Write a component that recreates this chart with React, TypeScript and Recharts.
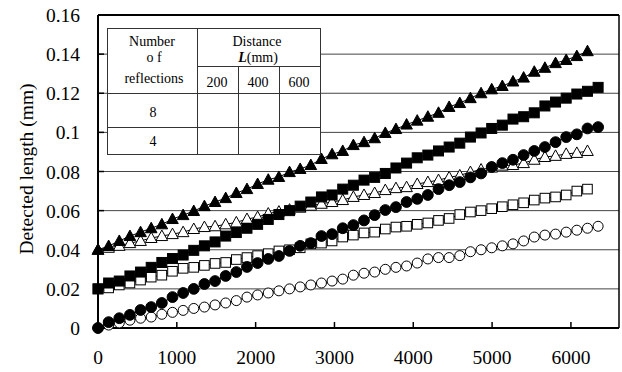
import React from 'react';
import { ScatterChart, Scatter, XAxis, YAxis, CartesianGrid, ReferenceLine } from 'recharts';

const FONT = '"Liberation Serif", "Times New Roman", serif';

// x positions of the measurement points
const xPositions = [
  0, 135, 270, 405, 540, 675, 810, 945, 1080, 1215, 1350, 1485, 1620, 1755, 1890, 2025,
  2160, 2295, 2430, 2565, 2700, 2835, 2970, 3105, 3240, 3375, 3510, 3645, 3780, 3915, 4050, 4185,
  4320, 4455, 4590, 4725, 4860, 4995, 5130, 5265, 5400, 5535, 5670, 5805, 5940, 6075, 6210, 6345,
];

// filled triangles
const triFilled = [
  0.040, 0.0419, 0.0445, 0.047, 0.049, 0.051, 0.053, 0.0557, 0.0577, 0.0598, 0.0623, 0.0644,
  0.0664, 0.069, 0.071, 0.0736, 0.0758, 0.0772, 0.0797, 0.0813, 0.0833, 0.0864, 0.0888, 0.0905,
  0.0935, 0.095, 0.097, 0.0997, 0.1017, 0.104, 0.106, 0.108, 0.110, 0.113, 0.115, 0.1175,
  0.120, 0.122, 0.1237, 0.126, 0.128, 0.131, 0.133, 0.1354, 0.137, 0.139, 0.1415,
];
// filled squares
const sqFilled = [
  0.020, 0.023, 0.024, 0.0266, 0.0286, 0.031, 0.0335, 0.0355, 0.0373, 0.0397, 0.042, 0.044,
  0.047, 0.0488, 0.051, 0.053, 0.0555, 0.058, 0.060, 0.0623, 0.0644, 0.067, 0.068, 0.071,
  0.073, 0.0756, 0.077, 0.079, 0.0818, 0.0843, 0.087, 0.0884, 0.0905, 0.0925, 0.0945, 0.0976,
  0.0997, 0.102, 0.1037, 0.1068, 0.108, 0.110, 0.1135, 0.1155, 0.1175, 0.1196, 0.121, 0.123,
];
// filled circles
const circFilled = [
  0.000, 0.003, 0.005, 0.0067, 0.0092, 0.0107, 0.0128, 0.0158, 0.0179, 0.020, 0.0225, 0.024,
  0.0266, 0.0286, 0.0312, 0.0332, 0.0353, 0.0368, 0.0394, 0.042, 0.0434, 0.047, 0.048, 0.051,
  0.0526, 0.055, 0.0577, 0.0603, 0.0618, 0.0644, 0.066, 0.068, 0.071, 0.073, 0.0746, 0.077,
  0.079, 0.0823, 0.0843, 0.086, 0.0884, 0.0905, 0.0925, 0.095, 0.0976, 0.099, 0.102, 0.1027,
];
// open triangles
const triOpen = [
  0.040, 0.041, 0.042, 0.0434, 0.0445, 0.046, 0.047, 0.048, 0.049, 0.0506, 0.0516, 0.052,
  0.053, 0.054, 0.0557, 0.0567, 0.0585, 0.0595, 0.0605, 0.0615, 0.0625, 0.0635, 0.0644, 0.0654,
  0.067, 0.068, 0.069, 0.0705, 0.0715, 0.072, 0.0736, 0.0746, 0.0756, 0.077, 0.078, 0.0797,
  0.081, 0.082, 0.083, 0.0833, 0.0843, 0.086, 0.0874, 0.088, 0.089, 0.0895, 0.0905,
];
// open squares
const sqOpen = [
  0.020, 0.0205, 0.022, 0.023, 0.0245, 0.026, 0.027, 0.029, 0.0305, 0.031, 0.032, 0.033,
  0.0335, 0.035, 0.036, 0.037, 0.038, 0.0394, 0.040, 0.041, 0.043, 0.0434, 0.0445, 0.0465,
  0.0475, 0.0486, 0.049, 0.0506, 0.0516, 0.052, 0.053, 0.0537, 0.055, 0.056, 0.058, 0.0593,
  0.060, 0.061, 0.062, 0.063, 0.064, 0.0654, 0.0664, 0.067, 0.068, 0.070, 0.071,
];
// open circles
const circOpen = [
  0.000, 0.0015, 0.0026, 0.004, 0.005, 0.0056, 0.007, 0.008, 0.009, 0.010, 0.0107, 0.0118,
  0.0128, 0.014, 0.0158, 0.0169, 0.0179, 0.019, 0.020, 0.021, 0.022, 0.023, 0.024, 0.025,
  0.027, 0.028, 0.0286, 0.030, 0.031, 0.0317, 0.0332, 0.0353, 0.036, 0.036, 0.037, 0.039,
  0.040, 0.041, 0.042, 0.043, 0.0445, 0.0465, 0.0475, 0.048, 0.049, 0.050, 0.051, 0.052,
];

const xTicks = [0, 1000, 2000, 3000, 4000, 5000, 6000];
const yTicks = [0, 0.02, 0.04, 0.06, 0.08, 0.1, 0.12, 0.14, 0.16];
const yLabel = 'Detected length (mm)';

const tableRowHeader = ['Number', 'o f', 'reflections'];
const tableColHeader = ['Distance', '(mm)'];
const tableDistances = ['200', '400', '600'];
const tableReflections = ['8', '4'];

const toPoints = (ys: number[]) => ys.map((y, i) => ({ x: xPositions[i], y }));

const TriShape = (filled: boolean) => (p: any) => {
  const { cx, cy } = p;
  if (cx == null || cy == null) return <g />;
  return (
    <polygon
      points={`${cx},${cy - 6} ${cx + 5.8},${cy + 4.5} ${cx - 5.8},${cy + 4.5}`}
      fill={filled ? '#000' : '#fff'}
      stroke="#000"
      strokeWidth={1}
    />
  );
};
const SqShape = (filled: boolean) => (p: any) => {
  const { cx, cy } = p;
  if (cx == null || cy == null) return <g />;
  const h = filled ? 5 : 4.8;
  return (
    <rect x={cx - h} y={cy - h} width={2 * h} height={2 * h} fill={filled ? '#000' : '#fff'} stroke="#000" strokeWidth={1} />
  );
};
const CircShape = (filled: boolean) => (p: any) => {
  const { cx, cy } = p;
  if (cx == null || cy == null) return <g />;
  return <circle cx={cx} cy={cy} r={filled ? 5.4 : 5} fill={filled ? '#000' : '#fff'} stroke="#000" strokeWidth={1} />;
};

const X_MARGIN = 22;
const XTick = (props: any) => {
  const { x, y, payload } = props;
  const axisY = y - X_MARGIN;
  return (
    <g>
      {payload.value !== 0 && <line x1={x} x2={x} y1={axisY} y2={axisY - 6} stroke="#000" strokeWidth={1.5} />}
      <text x={x} y={y} dy="0.71em" textAnchor="middle" fontFamily={FONT} fontSize={19.5} fill="#000">
        {payload.value}
      </text>
    </g>
  );
};

const YTick = (props: any) => {
  const { x, y, payload } = props;
  const axisX = x + 18;
  const v = payload.value as number;
  const label = v === 0 ? '0' : String(Number(v.toFixed(2)));
  return (
    <g>
      {v !== 0 && v !== 0.16 && <line x1={axisX} x2={axisX + 6} y1={y} y2={y} stroke="#000" strokeWidth={1.5} />}
      <text x={x} y={y} dy="0.36em" textAnchor="end" fontFamily={FONT} fontSize={19.5} fill="#000">
        {label}
      </text>
    </g>
  );
};

const lineStyle = { stroke: '#000', strokeWidth: 1 };

export default function App() {
  return (
    <div style={{ position: 'absolute', left: 0, top: 0, width: 622, height: 372, background: '#fff' }}>
      <ScatterChart width={622} height={372} margin={{ top: 15, right: 3, bottom: 14, left: 0 }}>
        <CartesianGrid vertical={false} stroke="#444" strokeWidth={1} />
        <XAxis
          type="number"
          dataKey="x"
          domain={[0, 6610]}
          ticks={xTicks}
          height={30}
          tickSize={0}
          tickMargin={X_MARGIN}
          tickLine={false}
          tick={<XTick />}
          axisLine={{ stroke: '#000', strokeWidth: 2 }}
        />
        <YAxis
          type="number"
          dataKey="y"
          domain={[0, 0.16]}
          ticks={yTicks}
          width={98}
          tickSize={0}
          tickMargin={18}
          tickLine={false}
          tick={<YTick />}
          axisLine={{ stroke: '#000', strokeWidth: 2 }}
        />
        <ReferenceLine y={0.16} stroke="#000" strokeWidth={2} />
        <ReferenceLine x={6610} stroke="#000" strokeWidth={1.5} />
        <Scatter data={toPoints(circOpen)} line={lineStyle} shape={CircShape(false)} isAnimationActive={false} />
        <Scatter data={toPoints(sqOpen)} line={lineStyle} shape={SqShape(false)} isAnimationActive={false} />
        <Scatter data={toPoints(triOpen)} line={lineStyle} shape={TriShape(false)} isAnimationActive={false} />
        <Scatter data={toPoints(circFilled)} line={lineStyle} shape={CircShape(true)} isAnimationActive={false} />
        <Scatter data={toPoints(sqFilled)} line={lineStyle} shape={SqShape(true)} isAnimationActive={false} />
        <Scatter data={toPoints(triFilled)} line={lineStyle} shape={TriShape(true)} isAnimationActive={false} />
      </ScatterChart>
      <svg
        width={622}
        height={372}
        style={{ position: 'absolute', left: 0, top: 0, pointerEvents: 'none' }}
        fontFamily={FONT}
      >
        <text x={33} y={169} transform="rotate(-90 33 169)" textAnchor="middle" fontSize={19.5} fill="#000">
          {yLabel}
        </text>
        <g stroke="#333" strokeWidth={1} shapeRendering="crispEdges">
          <rect x={107.5} y={28.5} width={213} height={126} fill="#fff" />
          <line x1={197.5} x2={197.5} y1={28.5} y2={154.5} />
          <line x1={197.5} x2={320.5} y1={66.5} y2={66.5} />
          <line x1={238.5} x2={238.5} y1={66.5} y2={154.5} />
          <line x1={279.5} x2={279.5} y1={66.5} y2={154.5} />
          <line x1={107.5} x2={320.5} y1={93.5} y2={93.5} />
          <line x1={107.5} x2={320.5} y1={127.5} y2={127.5} />
        </g>
        <g fontSize={14} fill="#000" textAnchor="middle">
          <text x={152} y={46}>{tableRowHeader[0]}</text>
          <text x={154} y={62}>{tableRowHeader[1]}</text>
          <text x={154} y={83}>{tableRowHeader[2]}</text>
          <text x={257} y={46}>{tableColHeader[0]}</text>
          <text x={258} y={62}>
            <tspan fontWeight="bold" fontStyle="italic">L</tspan>
            <tspan>{tableColHeader[1]}</tspan>
          </text>
          <text x={217} y={87}>{tableDistances[0]}</text>
          <text x={258} y={87}>{tableDistances[1]}</text>
          <text x={299} y={87}>{tableDistances[2]}</text>
          <text x={153} y={117}>{tableReflections[0]}</text>
          <text x={153} y={146}>{tableReflections[1]}</text>
        </g>
      </svg>
    </div>
  );
}
